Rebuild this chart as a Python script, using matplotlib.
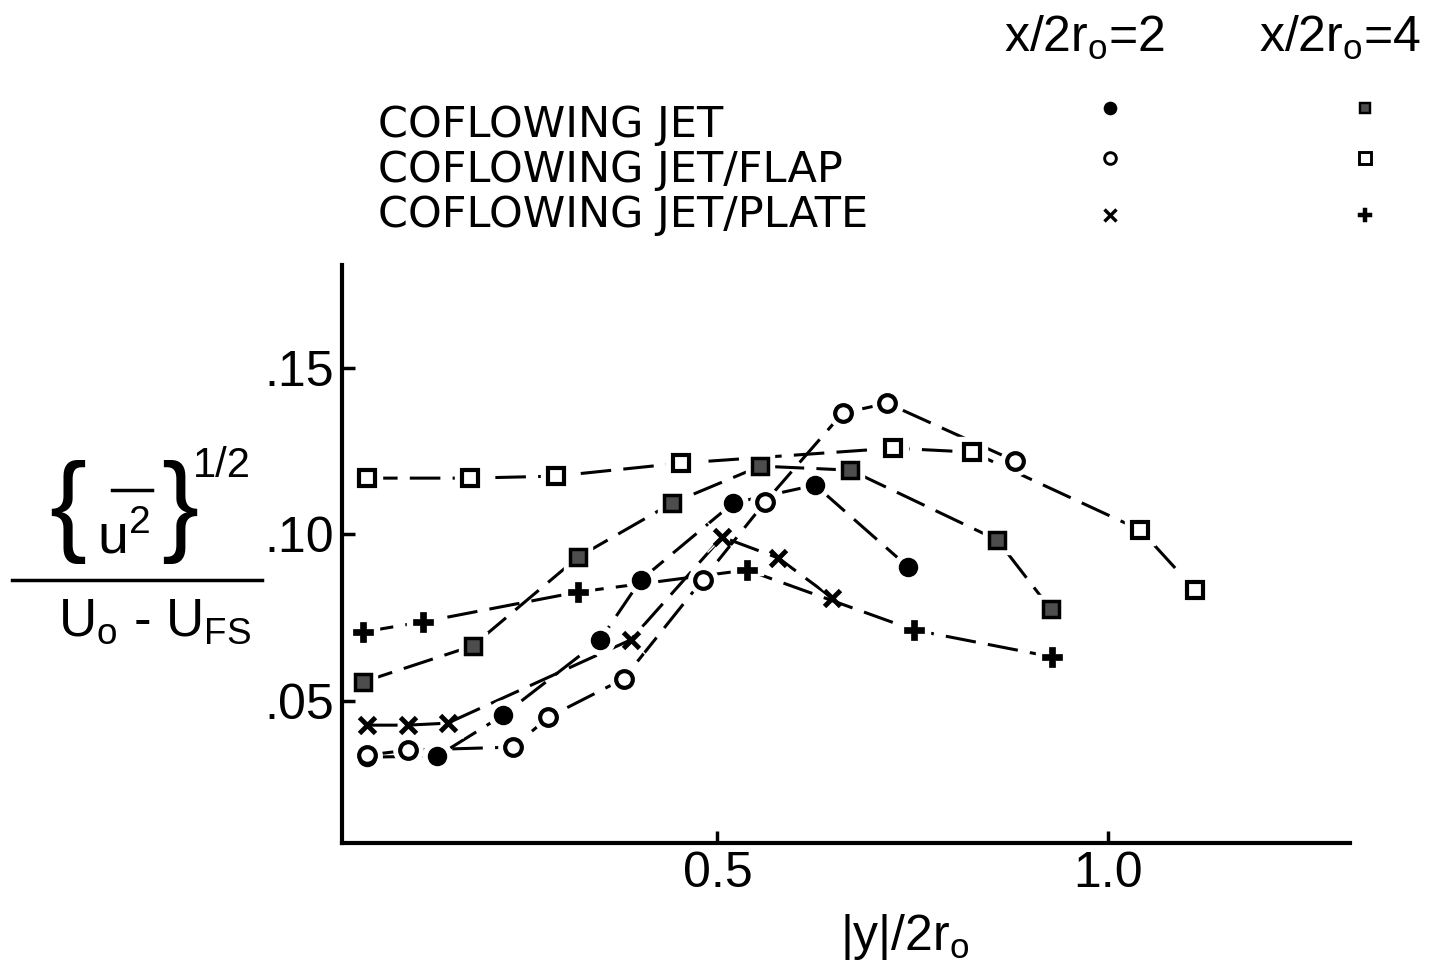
import matplotlib
matplotlib.use('Agg')
import matplotlib.pyplot as plt
from matplotlib.lines import Line2D

plt.rcParams['font.family'] = ['Liberation Sans', 'DejaVu Sans']
plt.rcParams['mathtext.fontset'] = 'custom'
plt.rcParams['mathtext.rm'] = 'Liberation Sans'
plt.rcParams['mathtext.it'] = 'Liberation Sans'
plt.rcParams['mathtext.bf'] = 'Liberation Sans:bold'

# coflowing jet, x/2r0 = 2  (filled circle)
jet2_x = [0.052, 0.142, 0.226, 0.350, 0.402, 0.520, 0.625, 0.744]
jet2_y = [0.033, 0.0333, 0.0456, 0.0682, 0.0862, 0.1093, 0.1147, 0.0901]
# coflowing jet, x/2r0 = 4  (shaded square)
jet4_x = [0.047, 0.187, 0.322, 0.442, 0.555, 0.670, 0.858, 0.926]
jet4_y = [0.0556, 0.0664, 0.0931, 0.1093, 0.1204, 0.1192, 0.0982, 0.0775]
# coflowing jet/flap, x/2r0 = 2  (open circle)
flap2_x = [0.052, 0.105, 0.239, 0.284, 0.380, 0.481, 0.561, 0.660, 0.717, 0.881]
flap2_y = [0.0336, 0.0351, 0.036, 0.045, 0.0565, 0.0862, 0.1096, 0.1363, 0.1393, 0.1219]
# coflowing jet/flap, x/2r0 = 4  (open square)
flap4_x = [0.052, 0.184, 0.293, 0.453, 0.725, 0.826, 1.041, 1.111]
flap4_y = [0.1168, 0.1168, 0.1174, 0.1213, 0.1258, 0.1246, 0.1012, 0.0832]
# coflowing jet/plate, x/2r0 = 2  (x)
plate2_x = [0.052, 0.104, 0.155, 0.389, 0.506, 0.578, 0.647]
plate2_y = [0.0426, 0.0426, 0.0432, 0.0682, 0.0991, 0.0928, 0.0808]
# coflowing jet/plate, x/2r0 = 4  (+)
plate4_x = [0.047, 0.123, 0.322, 0.538, 0.751, 0.928]
plate4_y = [0.0706, 0.0736, 0.0826, 0.0892, 0.0712, 0.0631]

series = [
    (jet2_x, jet2_y, dict(marker='o', ms=12, mfc='k', mec='k', mew=2)),
    (jet4_x, jet4_y, dict(marker='s', ms=11, mfc='0.3', mec='k', mew=2.5)),
    (flap2_x, flap2_y, dict(marker='o', ms=12, mfc='white', mec='k', mew=3)),
    (flap4_x, flap4_y, dict(marker='s', ms=12, mfc='white', mec='k', mew=3)),
    (plate2_x, plate2_y, dict(marker='x', ms=12, mfc='k', mec='k', mew=3.5)),
    (plate4_x, plate4_y, dict(marker='P', ms=14, mfc='k', mec='k', mew=0.5)),
]

fig = plt.figure(figsize=(14.37, 9.73), dpi=100)
ax = fig.add_axes([0.238, 0.1336, 0.7015, 0.594])

for xs, ys, st in series:
    ax.plot(xs, ys, color='k', lw=2.2, ls=(0, (10, 4)), zorder=2)
for xs, ys, st in series:
    # white halo so the curves stop short of the symbols
    ax.plot(xs, ys, ls='none', marker=st['marker'], ms=st['ms'] + 9,
            mfc='white', mec='white', zorder=3)
for xs, ys, st in series:
    ax.plot(xs, ys, ls='none', zorder=4, **st)

ax.set_xlim(0.02, 1.309)
ax.set_ylim(0.0072, 0.1808)
for s in ['top', 'right']:
    ax.spines[s].set_visible(False)
for s in ['left', 'bottom']:
    ax.spines[s].set_linewidth(3)

tick_font = dict(size=36)
ax.set_xticks([0.5, 1.0])
ax.set_xticklabels(['0.5', '1.0'], **tick_font)
ax.set_yticks([0.05, 0.10, 0.15])
ax.set_yticklabels(['.05', '.10', '.15'], **tick_font)
ax.tick_params(direction='in', length=9, width=2.5, pad=6)

fig.text(905 / 1437, 1 - 937 / 973, r'|y|/2r$_{\mathregular{o}}$', ha='center', va='center', size=36)

# y-axis label as a fraction
brace = dict(ha='center', va='center', size=80, family='Liberation Sans')
fig.text(68 / 1437, 1 - 512 / 973, '{', **brace)
fig.text(180 / 1437, 1 - 512 / 973, '}', **brace)
fig.text(124 / 1437, 1 - 540 / 973, r'u$^{\mathregular{2}}$', ha='center', va='center', size=40)
fig.add_artist(Line2D([112 / 1437, 152 / 1437], [1 - 490 / 973, 1 - 490 / 973],
                      color='k', lw=2.5, transform=fig.transFigure))
fig.text(222 / 1437, 1 - 466 / 973, '1/2', ha='center', va='center', size=30)
fig.add_artist(Line2D([12 / 1437, 262 / 1437], [1 - 580 / 973, 1 - 580 / 973],
                      color='k', lw=2.5, transform=fig.transFigure))
fig.text(155 / 1437, 1 - 622 / 973, r'U$_{\mathregular{o}}$ - U$_{\mathregular{FS}}$', ha='center', va='center',
         size=38)

# key
key_font = dict(family=['DejaVu Sans'], size=31)
rows = ['COFLOWING JET', 'COFLOWING JET/FLAP', 'COFLOWING JET/PLATE']
row_y = [125, 170, 215]
for txt, yy in zip(rows, row_y):
    fig.text(378 / 1437, 1 - yy / 973, txt, ha='left', va='center', **key_font)

fig.text(1085 / 1437, 1 - 38 / 973, r'x/2r$_{\mathregular{o}}$=2', ha='center', va='center', size=36)
fig.text(1340 / 1437, 1 - 38 / 973, r'x/2r$_{\mathregular{o}}$=4', ha='center', va='center', size=36)

key_y = [108, 158, 215]
for (xs, ys, st), kx, ky in zip(series, [1110, 1365, 1110, 1365, 1110, 1365],
                                [key_y[0], key_y[0], key_y[1], key_y[1], key_y[2], key_y[2]]):
    kst = dict(st)
    kst['ms'] = st['ms'] * 0.7
    kst['mew'] = st['mew'] * 0.7
    fig.add_artist(Line2D([kx / 1437], [1 - ky / 973], ls='none', transform=fig.transFigure, **kst))

fig.savefig('out.png', dpi=100)
